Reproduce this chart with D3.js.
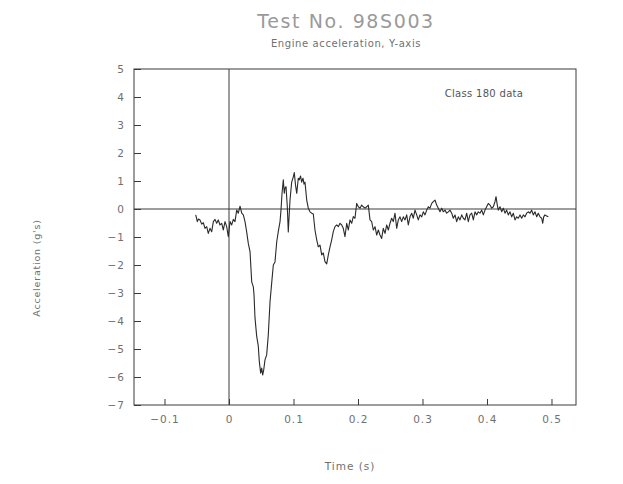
<!DOCTYPE html>
<html><head><meta charset="utf-8">
<script src="https://cdn.jsdelivr.net/npm/d3@7"></script>
<style>
html,body{margin:0;padding:0;background:#fff;}
svg text{font-family:"DejaVu Sans",sans-serif;}
</style></head>
<body><svg id="c" width="623" height="484"></svg>
<script>
const titleText = "Test No. 98S003";
const subtitleText = "Engine acceleration, Y-axis";
const xLabel = "Time (s)";
const yLabel = "Acceleration (g's)";
const noteText = "Class 180 data";
const xTicks = [-0.1, 0, 0.1, 0.2, 0.3, 0.4, 0.5];
const xTickLabels = ["\u22120.1", "0", "0.1", "0.2", "0.3", "0.4", "0.5"];
const yTicks = [-7,-6,-5,-4,-3,-2,-1,0,1,2,3,4,5];
const yTickLabels = ["\u22127","\u22126","\u22125","\u22124","\u22123","\u22122","\u22121","0","1","2","3","4","5"];
const time = [
-0.0516,-0.0491,-0.0473,-0.045,-0.0423,-0.0398,-0.0372,-0.0346,-0.0321,-0.0295,
-0.0268,-0.0243,-0.0217,-0.0191,-0.0166,-0.014,-0.0113,-0.0088,-0.0062,-0.0036,
-0.0011,0.0016,0.0042,0.0067,0.0093,0.0119,0.0144,0.0171,0.0197,0.0222,
0.0248,0.0274,0.0299,0.0326,0.0352,0.0377,0.0388,0.0403,0.0429,0.0454,
0.047,0.0491,0.0507,0.0522,0.0538,0.0558,0.0584,0.0609,0.0636,0.0662,
0.0687,0.0713,0.074,0.0764,0.0791,0.0806,0.0822,0.0842,0.0857,0.0868,
0.0884,0.0904,0.0919,0.0933,0.0946,0.0972,0.0997,0.1012,0.1031,0.105,
0.1074,0.109,0.1109,0.1127,0.1147,0.1163,0.1178,0.1205,0.1229,0.1256,
0.1282,0.1307,0.1333,0.136,0.1384,0.1411,0.1437,0.1462,0.1488,0.1515,
0.154,0.1566,0.1592,0.1617,0.1643,0.167,0.1695,0.1721,0.1747,0.1772,
0.1798,0.1825,0.185,0.1876,0.1902,0.1927,0.1953,0.198,0.2005,0.2031,
0.2057,0.2082,0.2109,0.2135,0.216,0.2186,0.2212,0.2237,0.2264,0.229,
0.2315,0.2341,0.2367,0.2392,0.2419,0.2445,0.247,0.2496,0.2522,0.2547,
0.2574,0.26,0.2625,0.2651,0.2677,0.2702,0.2729,0.2755,0.278,0.2806,
0.2833,0.2857,0.2884,0.291,0.2935,0.2961,0.2988,0.3012,0.3039,0.3065,
0.309,0.3116,0.3143,0.3167,0.3194,0.322,0.3245,0.3271,0.3298,0.3322,
0.3349,0.3375,0.34,0.3426,0.3453,0.3478,0.3504,0.353,0.3555,0.3581,
0.3608,0.3633,0.3659,0.3685,0.371,0.3736,0.3763,0.3788,0.3814,0.384,
0.3865,0.3891,0.3918,0.3943,0.3969,0.3995,0.402,0.4047,0.4073,0.4098,
0.4124,0.414,0.416,0.4175,0.4202,0.4228,0.4253,0.4279,0.4305,0.433,
0.4357,0.4383,0.4408,0.4434,0.446,0.4485,0.4512,0.4538,0.4563,0.4589,
0.4615,0.464,0.4667,0.4693,0.4718,0.4744,0.4771,0.4795,0.4822,0.4848,
0.4864,0.4879,0.4899,0.4925,0.4951];
const accel = [
-0.21,-0.45,-0.36,-0.39,-0.54,-0.49,-0.69,-0.63,-0.87,-0.69,
-0.81,-0.45,-0.37,-0.51,-0.39,-0.57,-0.51,-0.75,-0.45,-0.63,
-0.99,-0.45,-0.57,-0.37,-0.45,-0.04,-0.15,0.1,-0.15,-0.21,
-0.45,-0.82,-1.23,-1.52,-2.6,-2.78,-3.07,-3.89,-4.54,-4.89,
-5.45,-5.86,-5.68,-5.93,-5.75,-5.39,-5.21,-4.5,-3.31,-2.64,
-2.0,-1.89,-1.17,-0.81,-0.45,-0.04,0.56,1.04,0.56,0.75,
0.8,0.08,-0.82,-0.21,0.32,0.96,1.15,1.3,0.86,0.56,
1.1,1.04,1.18,0.96,1.1,0.89,0.96,0.32,0.03,-0.1,
-0.15,-0.18,-0.75,-1.1,-1.35,-1.29,-1.64,-1.57,-1.88,-1.96,
-1.64,-1.35,-1.1,-0.81,-0.63,-0.57,-0.63,-0.51,-0.57,-0.69,
-0.99,-0.51,-0.75,-0.39,-0.51,-0.27,-0.33,0.2,0.08,0.03,
0.14,0.08,0.03,0.08,0.14,-0.39,-0.45,-0.75,-0.63,-0.93,
-0.75,-0.93,-1.05,-0.69,-0.87,-0.57,-0.75,-0.51,-0.33,-0.45,
-0.15,-0.69,-0.39,-0.28,-0.45,-0.28,-0.39,-0.21,-0.57,-0.28,
-0.15,-0.33,-0.04,-0.21,-0.39,-0.21,-0.28,-0.1,-0.21,-0.04,
0.08,0.03,0.2,0.26,0.32,0.14,0.03,-0.1,0.03,-0.1,
-0.04,-0.15,-0.1,-0.04,-0.15,-0.33,-0.21,-0.45,-0.28,-0.39,
-0.21,-0.33,-0.39,-0.15,-0.45,-0.21,-0.15,-0.39,-0.1,-0.21,
-0.1,-0.15,-0.04,-0.21,-0.04,0.08,0.2,0.14,0.03,0.08,
0.26,0.44,0.14,-0.04,0.08,-0.1,0.03,-0.15,-0.04,-0.21,
-0.1,-0.28,-0.15,-0.39,-0.28,-0.33,-0.21,-0.33,-0.21,-0.28,
-0.15,-0.1,-0.15,-0.04,-0.21,-0.1,-0.28,-0.15,-0.28,-0.33,
-0.51,-0.28,-0.21,-0.25,-0.28];

const svg = d3.select("#c");
const L = 134, R = 576, T = 69, B = 405;
const x = d3.scaleLinear().domain([-0.1473, 0.538]).range([L, R]);
const y = d3.scaleLinear().domain([-7, 5]).range([B, T]);
const lineCol = "#3a3a3a", textCol = "#707070";

// frame
svg.append("rect").attr("x", L).attr("y", T).attr("width", R - L).attr("height", B - T)
  .attr("fill", "none").attr("stroke", lineCol).attr("stroke-width", 1);

// zero lines
svg.append("line").attr("x1", x(0)).attr("x2", x(0)).attr("y1", T).attr("y2", B)
  .attr("stroke", lineCol).attr("stroke-width", 1);
svg.append("line").attr("x1", L).attr("x2", R).attr("y1", y(0)).attr("y2", y(0))
  .attr("stroke", lineCol).attr("stroke-width", 1);

// x axis (ticks inward)
const xAxis = d3.axisBottom(x).tickValues(xTicks).tickSize(-6).tickPadding(11)
  .tickFormat((d, i) => xTickLabels[i]);
const gx = svg.append("g").attr("transform", `translate(0,${B})`).call(xAxis);
gx.select(".domain").remove();
gx.selectAll("line").attr("stroke", lineCol);
gx.selectAll("text").attr("fill", textCol).attr("font-size", 10.5).attr("letter-spacing", 1);

// y axis (ticks inward)
const yAxis = d3.axisLeft(y).tickValues(yTicks).tickSize(-7).tickPadding(9)
  .tickFormat((d, i) => yTickLabels[i]);
const gy = svg.append("g").attr("transform", `translate(${L},0)`).call(yAxis);
gy.select(".domain").remove();
gy.selectAll("line").attr("stroke", lineCol);
gy.selectAll("text").attr("fill", textCol).attr("font-size", 10.5).attr("letter-spacing", 1);

// data line
const pts = time.map((t, i) => [t, accel[i]]);
svg.append("path").datum(pts)
  .attr("d", d3.line().x(d => x(d[0])).y(d => y(d[1])))
  .attr("fill", "none").attr("stroke", "#2a2a2a").attr("stroke-width", 1.1)
  .attr("stroke-linejoin", "round");

// titles
svg.append("text").attr("x", 346).attr("y", 28).attr("text-anchor", "middle")
  .attr("font-size", 19).attr("fill", "#9a9a9a").attr("letter-spacing", 1.6).text(titleText);
svg.append("text").attr("x", 346).attr("y", 47).attr("text-anchor", "middle")
  .attr("font-size", 10).attr("fill", textCol).attr("letter-spacing", 0.6).text(subtitleText);
svg.append("text").attr("x", 350).attr("y", 470).attr("text-anchor", "middle")
  .attr("font-size", 10.5).attr("fill", textCol).attr("letter-spacing", 1).text(xLabel);
svg.append("text").attr("transform", "translate(40,268) rotate(-90)").attr("text-anchor", "middle")
  .attr("font-size", 9.5).attr("fill", textCol).attr("letter-spacing", 0.8).text(yLabel);
svg.append("text").attr("x", 484).attr("y", 97).attr("text-anchor", "middle")
  .attr("font-size", 10).attr("fill", "#555").attr("letter-spacing", 0.3).text(noteText);
</script></body></html>
